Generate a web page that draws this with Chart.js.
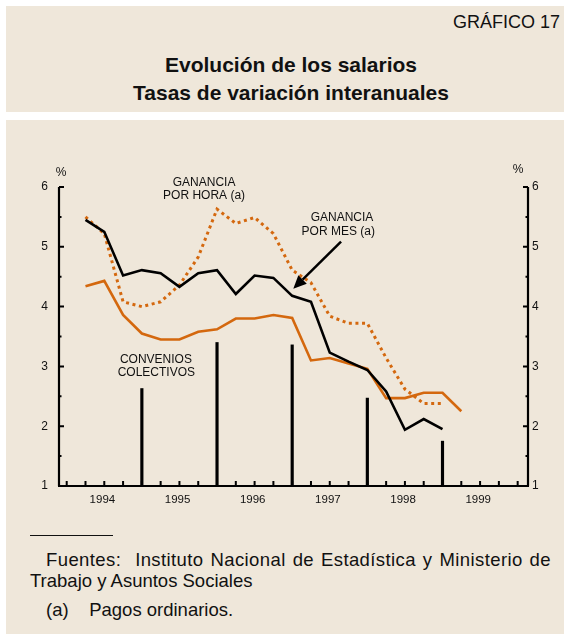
<!DOCTYPE html>
<html>
<head>
<meta charset="utf-8">
<script src="https://cdn.jsdelivr.net/npm/chart.js@4/dist/chart.umd.min.js"></script>
<style>
  html, body { margin: 0; padding: 0; background: #ffffff; }
  body { width: 564px; height: 635px; position: relative; overflow: hidden; font-family: "Liberation Sans", Arial, sans-serif; color: #111; }
  #header { position: absolute; left: 6px; top: 6px; width: 558px; height: 106px; background: #EFE7DA; }
  #panel { position: absolute; left: 6px; top: 120px; width: 558px; height: 514px; background: #EFE7DA; }
  #num { position: absolute; right: 4px; top: 6px; font-size: 18px; }
  #t1, #t2 { position: absolute; left: 0; width: 570px; text-align: center; font-weight: bold; font-size: 21px; }
  #t1 { top: 47px; }
  #t2 { top: 75px; }
  #rule { position: absolute; left: 30px; top: 535px; width: 83px; height: 0; border-top: 1px solid #111; }
  .note { position: absolute; font-size: 18.5px; line-height: 20px; white-space: nowrap; }
  #f1 { left: 46px; width: 505px; top: 550px; text-align: justify; text-align-last: justify; letter-spacing: 0.4px; }
  canvas { position: absolute; left: 0; top: 0; }
</style>
</head>
<body>
<div id="header">
  <div id="num">GRÁFICO 17</div>
  <div id="t1">Evolución de los salarios</div>
  <div id="t2">Tasas de variación interanuales</div>
</div>
<div id="panel"></div>
<div id="rule"></div>
<div class="note" id="f1">Fuentes:&nbsp; Instituto Nacional de Estadística y Ministerio de</div>
<div class="note" style="left:30px; top:571px;">Trabajo y Asuntos Sociales</div>
<div class="note" style="left:46px; top:600px;">(a)&nbsp;&nbsp;&nbsp; Pagos ordinarios.</div>
<canvas id="c" width="564" height="635"></canvas>
<script>
// ---- data (quarterly, x = quarter index; 0 = end of 1993) ----
const quarters = [1,2,3,4,5,6,7,8,9,10,11,12,13,14,15,16,17,18,19,20,21];
const gananciaPorMes  = [5.45,5.25,4.52,4.61,4.56,4.33,4.56,4.61,4.21,4.52,4.48,4.18,4.08,3.23,3.08,2.94,2.58,1.94,2.12,1.95];
const gananciaPorHora = [5.50,5.22,4.08,4.00,4.08,4.36,4.83,5.63,5.39,5.49,5.22,4.61,4.40,3.84,3.72,3.72,3.14,2.62,2.38,2.38];
const convenios       = [4.34,4.43,3.86,3.55,3.45,3.45,3.58,3.62,3.80,3.80,3.86,3.81,3.10,3.14,3.05,2.96,2.47,2.47,2.56,2.56,2.25];
const spikeQuarters = [4,8,12,16,20];
const spikeValues   = [2.63,3.40,3.36,2.47,1.75];
const yearLabels = ['1994','1995','1996','1997','1998','1999'];
const yearLabelPos = [1.9,5.9,9.9,13.9,17.9,21.9];
const yTickValues = [1,2,3,4,5,6];

const ORANGE = '#D4680E';
const FONT = '"Liberation Sans", Arial, sans-serif';

function pts(vals){ return vals.map((v,i)=>({x:quarters[i], y:v})); }

const decor = {
  id: 'decor',
  afterDatasetsDraw(chart) {
    const ctx = chart.ctx;
    const xs = chart.scales.x, ys = chart.scales.y;
    const a = chart.chartArea;
    const top = ys.getPixelForValue(6);
    ctx.save();
    ctx.strokeStyle = '#000';
    ctx.fillStyle = '#000';
    ctx.lineWidth = 2.2;
    ctx.lineCap = 'butt';
    // axes
    ctx.beginPath();
    ctx.moveTo(a.left, top); ctx.lineTo(a.left, a.bottom);
    ctx.moveTo(a.left - 1, a.bottom); ctx.lineTo(a.right + 1, a.bottom);
    ctx.moveTo(a.right, a.bottom); ctx.lineTo(a.right, top);
    ctx.stroke();
    // x ticks (quarters)
    ctx.lineWidth = 2;
    ctx.beginPath();
    for (let q = 0; q <= 24; q++) {
      const px = xs.getPixelForValue(q);
      ctx.moveTo(px, a.bottom); ctx.lineTo(px, a.bottom - 5);
    }
    ctx.stroke();
    // y ticks
    ctx.beginPath();
    for (let v = 1; v <= 6; v += 0.5) {
      const py = ys.getPixelForValue(v);
      const len = (v % 1 === 0) ? 5 : 2.5;
      ctx.moveTo(a.left, py); ctx.lineTo(a.left + len, py);
      ctx.moveTo(a.right, py); ctx.lineTo(a.right - len, py);
    }
    ctx.stroke();
    // labels
    ctx.font = '12px ' + FONT;
    ctx.fillStyle = '#111';
    ctx.textAlign = 'center';
    ctx.textBaseline = 'middle';
    ctx.fillText('%', 61, 173);
    ctx.fillText('%', 518, 170);
    const lab = (txt, q, v) => ctx.fillText(txt, xs.getPixelForValue(q), ys.getPixelForValue(v));
    lab('GANANCIA', 7.31, 6.07);
    lab('POR HORA (a)', 7.31, 5.85);
    lab('GANANCIA', 14.65, 5.49);
    lab('POR MES (a)', 14.45, 5.25);
    lab('CONVENIOS', 4.75, 3.12);
    lab('COLECTIVOS', 4.77, 2.90);
    // arrow
    const x0 = xs.getPixelForValue(14.6), y0 = ys.getPixelForValue(5.085);
    const x1 = xs.getPixelForValue(12.06), y1 = ys.getPixelForValue(4.30);
    const ang = Math.atan2(y1 - y0, x1 - x0);
    const hl = 13, hw = 6;
    const bx = x1 - hl * Math.cos(ang), by = y1 - hl * Math.sin(ang);
    ctx.strokeStyle = '#000';
    ctx.lineWidth = 2.5;
    ctx.beginPath(); ctx.moveTo(x0, y0); ctx.lineTo(bx, by); ctx.stroke();
    ctx.fillStyle = '#000';
    ctx.beginPath();
    ctx.moveTo(x1, y1);
    ctx.lineTo(bx + hw * Math.sin(ang), by - hw * Math.cos(ang));
    ctx.lineTo(bx - hw * Math.sin(ang), by + hw * Math.cos(ang));
    ctx.closePath(); ctx.fill();
    ctx.restore();
  }
};

new Chart(document.getElementById('c'), {
  type: 'line',
  data: {
    datasets: [
      { type: 'bar', label: 'spikes', data: spikeQuarters.map((q,i)=>({x:q, y:spikeValues[i]})),
        backgroundColor: '#000', borderWidth: 0, barThickness: 2.5, base: 1, order: 4 },
      { label: 'Convenios colectivos', data: pts(convenios), borderColor: ORANGE, borderWidth: 2.6,
        pointRadius: 0, tension: 0, fill: false, order: 3, borderJoinStyle: 'miter' },
      { label: 'Ganancia por hora', data: pts(gananciaPorHora), borderColor: ORANGE, borderWidth: 3,
        borderDash: [3, 3.6], borderCapStyle: 'butt', pointRadius: 0, tension: 0, fill: false, order: 2 },
      { label: 'Ganancia por mes', data: pts(gananciaPorMes), borderColor: '#000', borderWidth: 2.6,
        pointRadius: 0, tension: 0, fill: false, order: 1, borderJoinStyle: 'miter' }
    ]
  },
  options: {
    responsive: false,
    animation: false,
    devicePixelRatio: 1,
    layout: { padding: { top: 187, bottom: 119, left: 0, right: 0 } },
    plugins: { legend: { display: false }, tooltip: { enabled: false } },
    scales: {
      x: {
        type: 'linear', min: -0.41, max: 24.55, offset: false,
        grid: { display: false, drawTicks: false, offset: false }, border: { display: false },
        afterBuildTicks: (s) => { s.ticks = yearLabelPos.map(v => ({ value: v })); },
        afterFit: (s) => { s.height = 30; },
        ticks: { autoSkip: false, maxRotation: 0, padding: 7, color: '#111',
                 font: { family: FONT, size: 11.5 },
                 callback: (v, i) => yearLabels[i] }
      },
      y: {
        position: 'left', min: 1, max: 6,
        grid: { display: false, drawTicks: false }, border: { display: false },
        afterBuildTicks: (s) => { s.ticks = yTickValues.map(v => ({ value: v })); },
        afterFit: (s) => { s.width = 59; },
        ticks: { padding: 11, color: '#111', font: { family: FONT, size: 12 } }
      },
      y2: {
        position: 'right', min: 1, max: 6,
        grid: { display: false, drawTicks: false }, border: { display: false },
        afterBuildTicks: (s) => { s.ticks = yTickValues.map(v => ({ value: v })); },
        afterFit: (s) => { s.width = 36; },
        ticks: { padding: 4, color: '#111', font: { family: FONT, size: 12 } }
      }
    }
  },
  plugins: [decor]
});
</script>
</body>
</html>
